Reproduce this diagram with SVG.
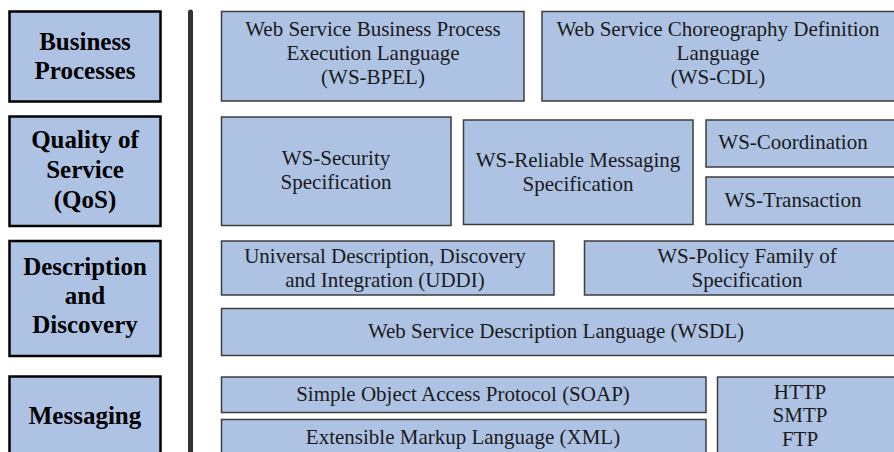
<svg xmlns="http://www.w3.org/2000/svg" width="894" height="452" viewBox="0 0 894 452">
<style>
.cat rect{fill:#aec3e4;stroke:#000;stroke-width:2.5}
.cat text{font-family:"Liberation Serif","Times New Roman",serif;font-weight:bold;font-size:25px;fill:#000;text-anchor:middle}
.box rect{fill:#aec3e4;stroke:#3c3c3c;stroke-width:1.5}
.box text{font-family:"Liberation Serif","Times New Roman",serif;font-size:21px;fill:#1a1a1a;text-anchor:middle}
</style>
<rect width="894" height="452" fill="#fff"/>
<g id="connectors">
<line x1="190.5" y1="12" x2="190.5" y2="470" stroke="#333" stroke-width="5" stroke-linecap="round"/>
</g>
<g id="business-processes" class="cat"><rect x="9.5" y="11.5" width="151" height="90"/><text x="85" y="50">Business</text><text x="85" y="79">Processes</text></g>
<g id="qos" class="cat"><rect x="9.5" y="116.5" width="151" height="109.5"/><text x="85" y="148">Quality of</text><text x="85" y="178">Service</text><text x="85" y="208">(QoS)</text></g>
<g id="description-discovery" class="cat"><rect x="9.5" y="241" width="151" height="115"/><text x="85" y="275">Description</text><text x="85" y="304">and</text><text x="85" y="333">Discovery</text></g>
<g id="messaging" class="cat"><rect x="9.5" y="376.5" width="151" height="90"/><text x="85" y="424">Messaging</text></g>

<g id="ws-bpel" class="box"><rect x="221.5" y="11.5" width="302.5" height="89.5"/><text x="373" y="36">Web Service Business Process</text><text x="373" y="60">Execution Language</text><text x="373" y="84">(WS-BPEL)</text></g>
<g id="ws-cdl" class="box"><rect x="542" y="11.5" width="360" height="89.5"/><text x="718" y="36">Web Service Choreography Definition</text><text x="718" y="60">Language</text><text x="718" y="84">(WS-CDL)</text></g>
<g id="ws-security" class="box"><rect x="221.5" y="117" width="229.5" height="108.5"/><text x="336" y="165">WS-Security</text><text x="336" y="189">Specification</text></g>
<g id="ws-reliable" class="box"><rect x="463.5" y="120" width="229.5" height="104.5"/><text x="578" y="167">WS-Reliable Messaging</text><text x="578" y="191">Specification</text></g>
<g id="ws-coordination" class="box"><rect x="706" y="120" width="200" height="47"/><text x="793" y="149">WS-Coordination</text></g>
<g id="ws-transaction" class="box"><rect x="706" y="177" width="200" height="47.5"/><text x="793" y="207">WS-Transaction</text></g>
<g id="uddi" class="box"><rect x="221.5" y="241" width="332.5" height="54"/><text x="385" y="263">Universal Description, Discovery</text><text x="385" y="287">and Integration (UDDI)</text></g>
<g id="ws-policy" class="box"><rect x="584.5" y="241" width="320" height="54"/><text x="747" y="263">WS-Policy Family of</text><text x="747" y="287">Specification</text></g>
<g id="wsdl" class="box"><rect x="221.5" y="308.5" width="690" height="47"/><text x="556" y="338">Web Service Description Language (WSDL)</text></g>
<g id="soap" class="box"><rect x="221.5" y="377" width="484.5" height="35.5"/><text x="463" y="401">Simple Object Access Protocol (SOAP)</text></g>
<g id="xml" class="box"><rect x="221.5" y="419.5" width="484.5" height="50"/><text x="463" y="444">Extensible Markup Language (XML)</text></g>
<g id="transport" class="box"><rect x="717.5" y="377" width="200" height="90"/><text x="800" y="399">HTTP</text><text x="800" y="422">SMTP</text><text x="800" y="446">FTP</text></g>
</svg>
